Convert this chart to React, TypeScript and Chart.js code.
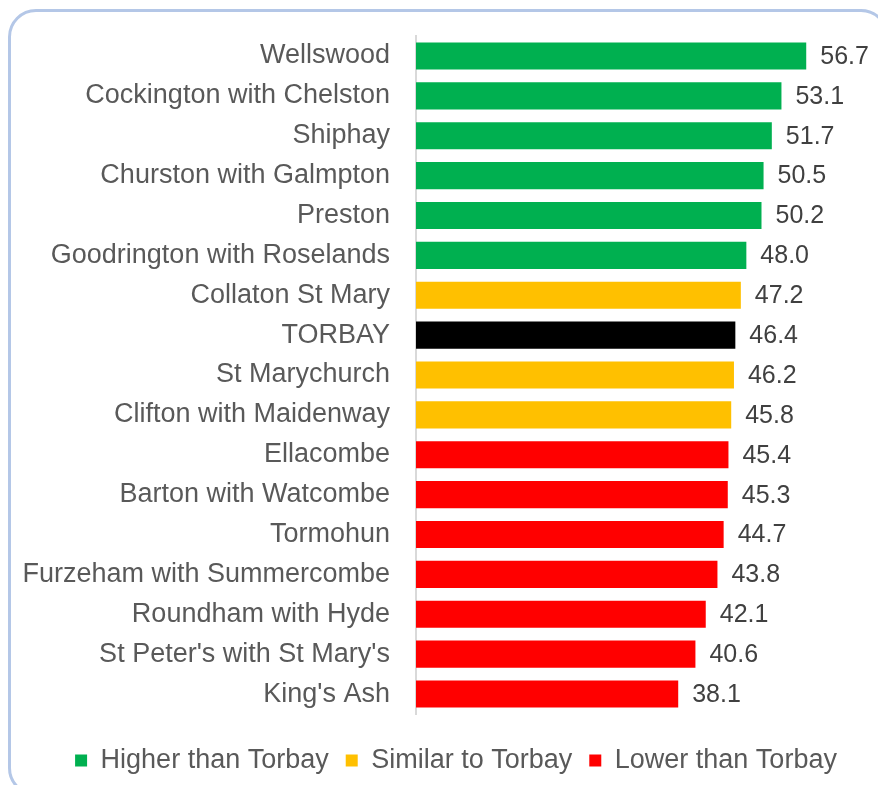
import React, { useEffect, useRef } from "react";
import { Chart, registerables } from "chart.js";

Chart.register(...registerables);

const categories: string[] = [
  "Wellswood",
  "Cockington with Chelston",
  "Shiphay",
  "Churston with Galmpton",
  "Preston",
  "Goodrington with Roselands",
  "Collaton St Mary",
  "TORBAY",
  "St Marychurch",
  "Clifton with Maidenway",
  "Ellacombe",
  "Barton with Watcombe",
  "Tormohun",
  "Furzeham with Summercombe",
  "Roundham with Hyde",
  "St Peter's with St Mary's",
  "King's Ash",
];

const values: number[] = [
  56.7, 53.1, 51.7, 50.5, 50.2, 48.0, 47.2, 46.4, 46.2, 45.8, 45.4, 45.3, 44.7,
  43.8, 42.1, 40.6, 38.1,
];

const groups: string[] = [
  "higher", "higher", "higher", "higher", "higher", "higher",
  "similar", "torbay", "similar", "similar",
  "lower", "lower", "lower", "lower", "lower", "lower", "lower",
];

const legendKeys: string[] = ["higher", "similar", "lower"];
const legendLabels: string[] = ["Higher than Torbay", "Similar to Torbay", "Lower than Torbay"];

const groupColors: Record<string, string> = {
  higher: "#00B050",
  similar: "#FFC000",
  lower: "#FF0000",
  torbay: "#000000",
};

const FONT = "'Liberation Sans', Arial, sans-serif";

const dataLabelPlugin = {
  id: "dataLabels",
  afterLayout(chart: any) {
    // shift the legend box so its centre matches the reference
    if (chart.legend) chart.legend.left = 20;
  },
  afterDatasetsDraw(chart: any) {
    const ctx = chart.ctx;
    const meta = chart.getDatasetMeta(0);
    ctx.save();
    ctx.font = `25px ${FONT}`;
    ctx.fillStyle = "#404040";
    ctx.textAlign = "left";
    ctx.textBaseline = "middle";
    meta.data.forEach((bar: any, i: number) => {
      ctx.fillText(values[i].toFixed(1), bar.x + 14, bar.y + 1);
    });
    ctx.restore();
  },
};

export default function App() {
  const canvasRef = useRef<HTMLCanvasElement | null>(null);

  useEffect(() => {
    if (!canvasRef.current) return;
    const chart = new Chart(canvasRef.current, {
      type: "bar",
      data: {
        labels: categories,
        datasets: [
          {
            data: values,
            backgroundColor: groups.map((g) => groupColors[g]),
            borderWidth: 0,
            barPercentage: 0.68,
            categoryPercentage: 1,
          },
        ],
      },
      options: {
        indexAxis: "y",
        responsive: false,
        animation: false,
        devicePixelRatio: 1,
        layout: { padding: { top: 28, left: 0, right: 2, bottom: 9 } },
        scales: {
          x: {
            min: 0,
            max: 68,
            display: true,
            ticks: { display: false },
            grid: { display: false, drawTicks: false },
            border: { display: false },
            afterFit: (s: any) => {
              s.height = 16;
            },
          },
          y: {
            ticks: {
              color: "#595959",
              font: { family: FONT, size: 27 },
              padding: 26,
            },
            grid: { display: false, drawTicks: false },
            border: { display: true, color: "#D9D9D9", width: 2 },
            afterFit: (s: any) => {
              s.width = 408;
              s.paddingTop = 0;
              s.paddingBottom = 0;
            },
          },
        },
        plugins: {
          tooltip: { enabled: false },
          legend: {
            display: true,
            position: "bottom",
            onClick: () => {},
            labels: {
              boxWidth: 12,
              boxHeight: 12,
              padding: 17,
              color: "#595959",
              font: { family: FONT, size: 27 },
              generateLabels: () =>
                legendKeys.map((k, i) => ({
                  text: legendLabels[i],
                  fillStyle: groupColors[k],
                  strokeStyle: groupColors[k],
                  fontColor: "#595959",
                  lineWidth: 0,
                  hidden: false,
                  datasetIndex: 0,
                })),
            },
          },
        },
      },
      plugins: [dataLabelPlugin],
    } as any);
    return () => chart.destroy();
  }, []);

  return (
    <div
      style={{
        position: "relative",
        width: 878,
        height: 785,
        overflow: "hidden",
        marginBottom: -8,
      }}
    >
      <div
        style={{
          position: "absolute",
          left: 0,
          top: 1,
          width: 881,
          height: 787,
          boxSizing: "border-box",
          border: "3px solid #B4C7E7",
          borderRadius: 28,
        }}
      />
      <canvas
        ref={canvasRef}
        width={878}
        height={785}
        style={{ position: "absolute", left: 0, top: 0, width: 878, height: 785 }}
      />
    </div>
  );
}
